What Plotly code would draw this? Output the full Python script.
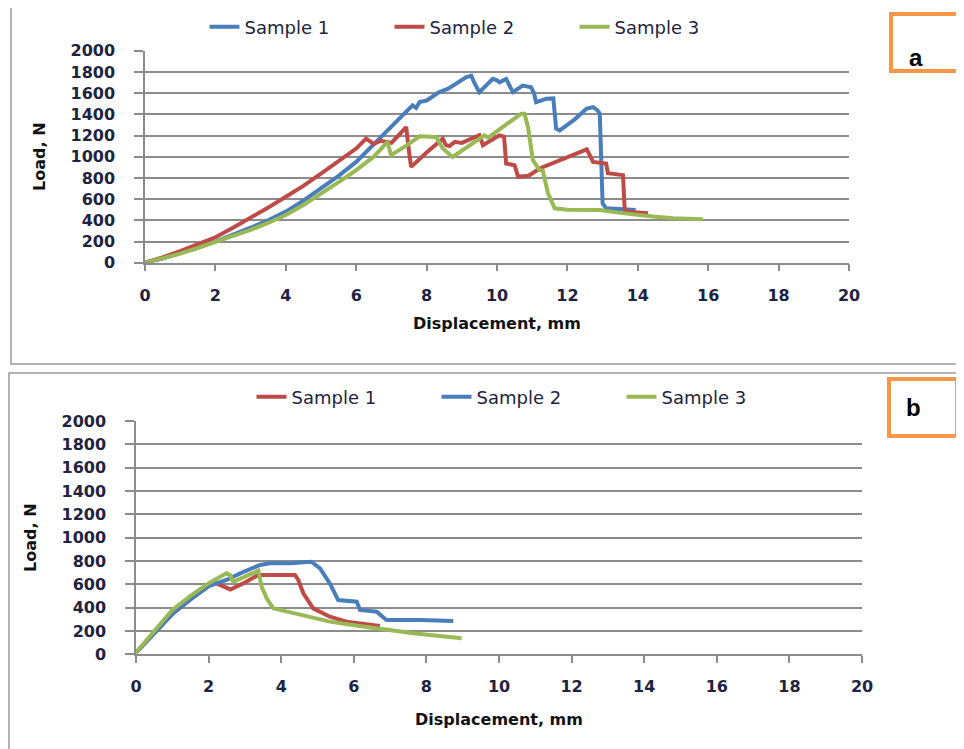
import plotly.graph_objects as go

# the page body adds an 8px margin, so the figure is 8px smaller and all
# target pixel positions are shifted by 8px
OFF = 8
W, H = 964 - OFF, 749 - OFF

# ---------------- Panel a data ----------------
a_s1_x = [0, 0.5, 1, 1.5, 2, 2.5, 3, 3.5, 4, 4.5, 5, 5.5, 6, 6.3, 6.66, 7.0, 7.23, 7.6, 7.7, 7.8, 8.0,
          8.36, 8.6, 8.9, 9.12, 9.27, 9.35, 9.5, 9.7, 9.88, 10.0, 10.07, 10.26, 10.35, 10.45, 10.73, 10.9,
          10.97, 11.05, 11.11, 11.4, 11.6, 11.68, 11.78, 12.2, 12.54, 12.73, 12.85, 12.92, 12.97, 13.0,
          13.1, 13.5, 13.94]
a_s1_y = [0, 40, 90, 140, 200, 260, 330, 400, 482, 585, 700, 820, 951, 1050, 1170, 1290, 1370, 1484, 1460,
          1515, 1530, 1609, 1640, 1700, 1749, 1765, 1700, 1609, 1680, 1734, 1720, 1702, 1734, 1680, 1609,
          1671, 1660, 1655, 1600, 1515, 1546, 1550, 1265, 1249, 1350, 1452, 1468, 1440, 1406, 900, 560,
          513, 510, 498]

a_s2_x = [0, 0.5, 1, 1.5, 2, 2.5, 3, 3.5, 4, 4.5, 5, 5.5, 6, 6.28, 6.5, 6.7, 7.0, 7.2, 7.42, 7.5, 7.56,
          8.0, 8.46, 8.55, 8.65, 8.8, 9.0, 9.5, 9.55, 9.6, 10.07, 10.2, 10.26, 10.5, 10.6, 10.9, 11.21,
          12.44, 12.55, 12.73, 13.1, 13.15, 13.58, 13.63, 14.29]
a_s2_y = [0, 50, 110, 170, 240, 330, 420, 520, 622, 725, 840, 955, 1077, 1170, 1120, 1150, 1130, 1200,
          1280, 1050, 904, 1040, 1170, 1110, 1100, 1140, 1130, 1202, 1140, 1108, 1202, 1190, 936, 920, 810,
          820, 889, 1061, 1070, 951, 936, 845, 826, 482, 466]

a_s3_x = [0, 0.5, 1, 1.5, 2, 2.5, 3, 3.5, 4, 4.5, 5, 5.5, 6, 6.5, 6.89, 6.95, 6.99, 7.4, 7.8, 8.27, 8.46,
          8.74, 9.2, 9.64, 9.75, 10.2, 10.69, 10.78, 10.88, 11.02, 11.21, 11.3, 11.45, 11.64, 12.0, 12.92,
          13.5, 14.43, 15.0, 15.85]
a_s3_y = [0, 40, 85, 140, 195, 250, 310, 375, 450, 545, 650, 760, 873, 1000, 1139, 1080, 1014, 1100, 1193,
          1186, 1077, 998, 1100, 1202, 1180, 1290, 1406, 1406, 1280, 967, 873, 870, 654, 513, 500, 498,
          470, 435, 420, 410]

# ---------------- Panel b data ----------------
b_s1_x = [0, 0.5, 1, 1.5, 2, 2.2, 2.49, 2.6, 2.95, 3.37, 3.6, 4.38, 4.47, 4.61, 4.88, 5.34, 5.8, 6.3, 6.72]
b_s1_y = [15, 175, 345, 470, 585, 610, 566, 556, 608, 680, 680, 680, 637, 523, 394, 322, 280, 260, 243]

b_s2_x = [0, 0.5, 1, 1.5, 2, 2.49, 2.87, 3.42, 3.69, 4.24, 4.61, 4.83, 5.07, 5.34, 5.57, 6.08, 6.17, 6.63,
          6.9, 7.82, 8.74]
b_s2_y = [15, 175, 345, 470, 585, 637, 694, 766, 780, 780, 794, 794, 737, 608, 465, 451, 380, 365, 294,
          294, 285]

b_s3_x = [0, 0.5, 1, 1.5, 2, 2.49, 2.59, 2.68, 3.0, 3.37, 3.46, 3.6, 3.78, 4.5, 5.34, 6.1, 6.9, 7.64, 8.3,
          8.97]
b_s3_y = [15, 200, 380, 500, 608, 694, 680, 622, 670, 717, 580, 480, 394, 340, 280, 245, 208, 180, 160,
          137]

legend_names = ["Sample 1", "Sample 2", "Sample 3"]
x_ticks = list(range(0, 21, 2))
y_ticks = list(range(0, 2001, 200))

BLUE = "#4A7EBB"
RED = "#BE4B48"
GREEN = "#98B954"

fig = go.Figure()

def add(x, y, name, color, xa, ya, leg):
    fig.add_trace(go.Scatter(x=x, y=y, name=name, mode="lines",
                             line=dict(color=color, width=4),
                             xaxis=xa, yaxis=ya, legend=leg))

add(a_s1_x, a_s1_y, legend_names[0], BLUE, "x", "y", "legend")
add(a_s2_x, a_s2_y, legend_names[1], RED, "x", "y", "legend")
add(a_s3_x, a_s3_y, legend_names[2], GREEN, "x", "y", "legend")
add(b_s1_x, b_s1_y, legend_names[0], RED, "x2", "y2", "legend2")
add(b_s2_x, b_s2_y, legend_names[1], BLUE, "x2", "y2", "legend2")
add(b_s3_x, b_s3_y, legend_names[2], GREEN, "x2", "y2", "legend2")

def px(v):
    return (v - OFF) / W

def py(v):
    return 1 - (v - OFF) / H

tickfont = dict(family="DejaVu Sans", size=16, color="#1E2340", weight="bold")
titlefont = dict(family="DejaVu Sans", size=16, color="#111111", weight="bold")
GRID = "#8C8C8C"

def xaxis(domain, anchor, standoff):
    return dict(domain=domain, anchor=anchor, range=[0, 20], tickvals=x_ticks,
                showgrid=False, zeroline=False, showline=True, linecolor=GRID, linewidth=1.5,
                ticks="outside", ticklen=7, tickcolor=GRID, tickwidth=1.5,
                ticklabelstandoff=10, tickfont=tickfont, automargin=False,
                title=dict(text="Displacement, mm", font=titlefont, standoff=standoff),
                fixedrange=True)

def yaxis(domain, anchor):
    return dict(domain=domain, anchor=anchor, range=[0, 2000], tickvals=y_ticks,
                showgrid=True, gridcolor=GRID, gridwidth=1.5, zeroline=False,
                showline=True, linecolor=GRID, linewidth=1.5,
                ticks="outside", ticklen=9, tickcolor=GRID, tickwidth=1.5,
                ticklabelstandoff=16, tickfont=tickfont, automargin=False,
                title=dict(text="Load, N", font=titlefont, standoff=21),
                fixedrange=True)

fig.update_layout(
    width=W, height=H,
    margin=dict(l=0, r=0, t=0, b=0, autoexpand=False),
    paper_bgcolor="white", plot_bgcolor="white",
    xaxis=xaxis([px(145), px(849)], "y", 14),
    yaxis=yaxis([py(262.7), py(50.7)], "x"),
    xaxis2=xaxis([px(136), px(862)], "y2", 19),
    yaxis2=yaxis([py(654.3), py(421)], "x2"),
    legend=dict(orientation="h", x=px(482), xanchor="center", y=py(27), yanchor="middle",
                font=dict(family="DejaVu Sans", size=18, color="#1E2340"),
                entrywidth=140, bgcolor="rgba(0,0,0,0)"),
    legend2=dict(orientation="h", x=px(529), xanchor="center", y=py(397), yanchor="middle",
                 font=dict(family="DejaVu Sans", size=18, color="#1E2340"),
                 entrywidth=140, bgcolor="rgba(0,0,0,0)"),
    showlegend=True,
)

shapes = [
    dict(type="rect", xref="paper", yref="paper", x0=px(11), x1=px(975), y0=py(364), y1=py(5),
         line=dict(color="#9A9A9A", width=1.5), layer="below"),
    dict(type="rect", xref="paper", yref="paper", x0=px(9), x1=px(975), y0=py(760), y1=py(373),
         line=dict(color="#9A9A9A", width=1.5), layer="below"),
    dict(type="rect", xref="paper", yref="paper", x0=px(891), x1=px(959), y0=py(71), y1=py(14),
         line=dict(color="#F79646", width=4), fillcolor="white"),
    dict(type="rect", xref="paper", yref="paper", x0=px(889), x1=px(957), y0=py(436), y1=py(379),
         line=dict(color="#F79646", width=4), fillcolor="white"),
]
fig.update_layout(shapes=shapes)

fig.add_annotation(xref="paper", yref="paper", x=px(925), y=py(42), text="a", showarrow=False,
                   font=dict(family="Liberation Sans", size=24, color="#000000", weight="bold"))
fig.add_annotation(xref="paper", yref="paper", x=px(923), y=py(407), text="b", showarrow=False,
                   font=dict(family="Liberation Sans", size=24, color="#000000", weight="bold"))

fig.write_html("out.html")
